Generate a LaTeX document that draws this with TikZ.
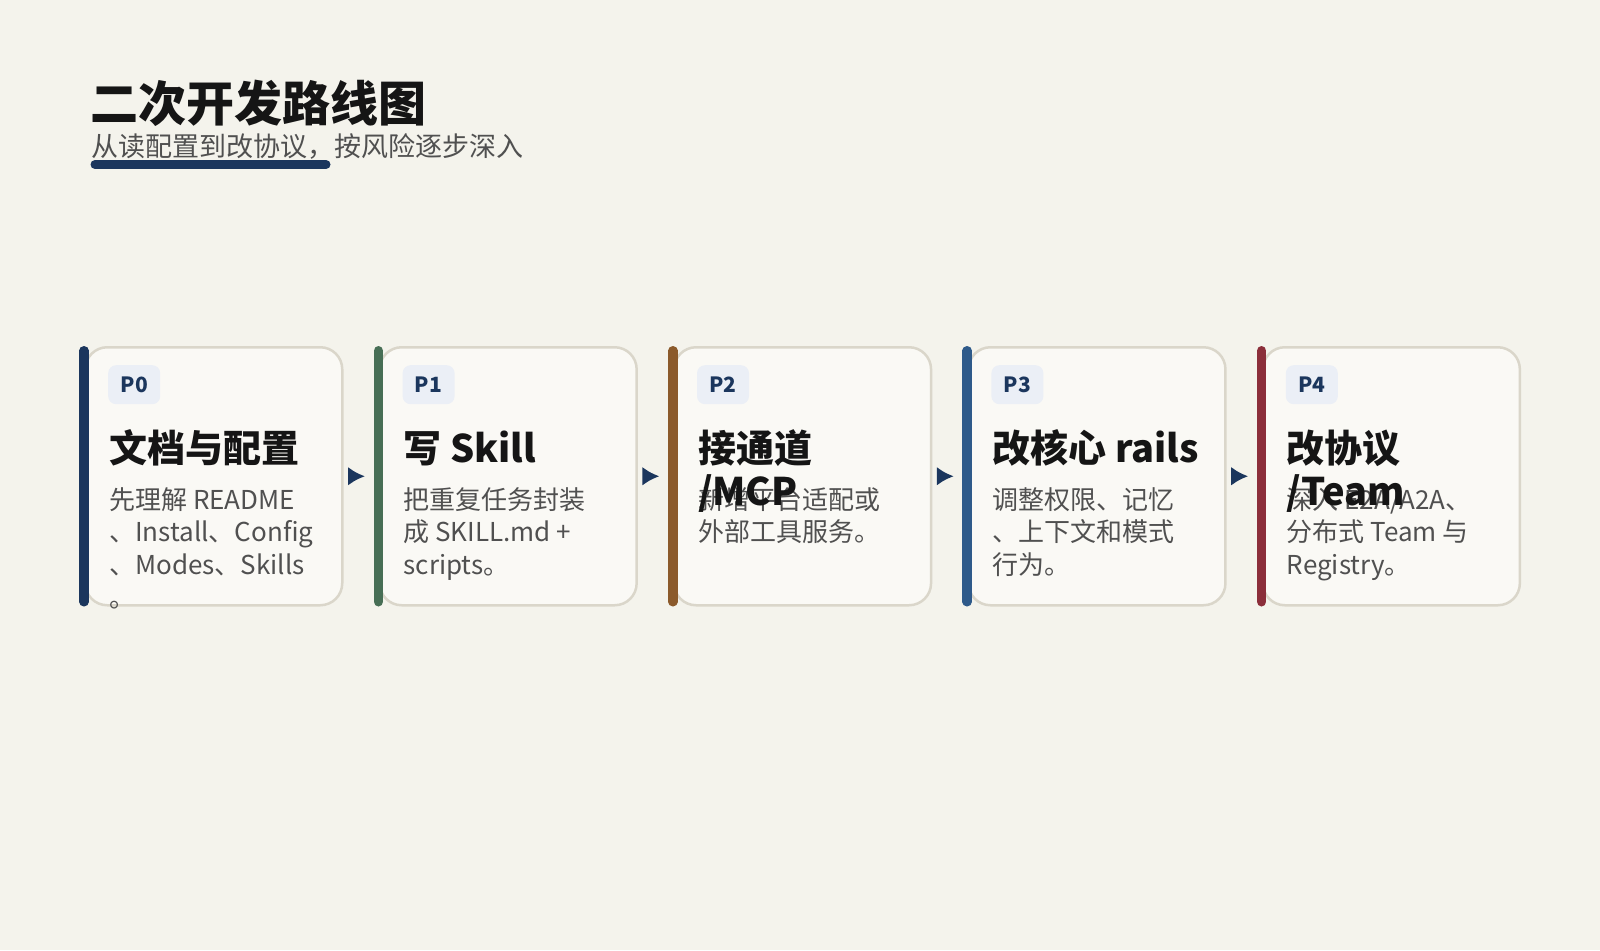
\documentclass[tikz,border=0pt]{standalone}
\usepackage{fontspec}
\setmainfont{Noto Sans CJK SC}
\usetikzlibrary{arrows.meta}
\definecolor{paper}{HTML}{F4F3EC}
\definecolor{cardfill}{HTML}{FAF9F5}
\definecolor{cardline}{HTML}{DAD6CA}
\definecolor{ink}{HTML}{151515}
\definecolor{muted}{HTML}{505050}
\definecolor{navy}{HTML}{1B365D}
\definecolor{pine}{HTML}{476E55}
\definecolor{rust}{HTML}{8B5A2B}
\definecolor{steel}{HTML}{2E5A8A}
\definecolor{wine}{HTML}{8B2E3A}
\definecolor{badgefill}{HTML}{EBEFF6}
\tikzset{
  card/.style={draw=cardline,line width=2.5pt,fill=cardfill,rounded corners=22pt,minimum width=257pt,minimum height=258pt,anchor=north west,inner sep=0pt},
  bar/.style={draw=#1,line width=9.5pt,line cap=round},
  badge/.style={fill=badgefill,rounded corners=8pt,minimum width=52pt,minimum height=39pt,inner sep=0pt,anchor=north west,text=navy,font=\fontsize{21}{21}\selectfont\bfseries},
  heading/.style={anchor=base west,inner sep=0pt,align=left,text=ink,font=\fontsize{38}{43}\selectfont\bfseries},
  blurb/.style={anchor=base west,inner sep=0pt,align=left,text=muted,font=\fontsize{26}{32.7}\selectfont},
  flow/.style={draw=navy,line width=4pt,-{Latex[length=17pt,width=19pt]}},
}
\begin{document}
\begin{tikzpicture}[x=1pt,y=-1pt]
  \fill[paper] (0,0) rectangle (1600,950);
  \useasboundingbox (0,0) rectangle (1600,950);
  \node[anchor=base west,inner sep=0pt,text=ink,font=\fontsize{48}{48}\selectfont\bfseries] (title) at (90,121) {二次开发路线图};
  \node[anchor=base west,inner sep=0pt,text=muted,font=\fontsize{27}{27}\selectfont] (subtitle) at (91,156) {从读配置到改协议，按风险逐步深入};
  \draw[navy,line width=9pt,line cap=round] (95,164.5) -- (326,164.5);
  % cards
  \node[card] (c0) at (84,346) {};
  \node[card] (c1) at (378.4,346) {};
  \node[card] (c2) at (672.8,346) {};
  \node[card] (c3) at (967.2,346) {};
  \node[card] (c4) at (1261.6,346) {};
  \draw[bar=navy] ([yshift=-4.75pt]c0.north west) -- ([yshift=4.75pt]c0.south west);
  \draw[bar=pine] ([yshift=-4.75pt]c1.north west) -- ([yshift=4.75pt]c1.south west);
  \draw[bar=rust] ([yshift=-4.75pt]c2.north west) -- ([yshift=4.75pt]c2.south west);
  \draw[bar=steel] ([yshift=-4.75pt]c3.north west) -- ([yshift=4.75pt]c3.south west);
  \draw[bar=wine] ([yshift=-4.75pt]c4.north west) -- ([yshift=4.75pt]c4.south west);
  \node[badge] (b0) at ([xshift=24pt,yshift=-19pt]c0.north west) {P0};
  \node[badge] (b1) at ([xshift=24pt,yshift=-19pt]c1.north west) {P1};
  \node[badge] (b2) at ([xshift=24pt,yshift=-19pt]c2.north west) {P2};
  \node[badge] (b3) at ([xshift=24pt,yshift=-19pt]c3.north west) {P3};
  \node[badge] (b4) at ([xshift=24pt,yshift=-19pt]c4.north west) {P4};
  % base of a wrapped node is its last line
  \node[blurb] (d0) at ([xshift=25pt,yshift=-261.1pt]c0.north west) {先理解 README\\、Install、Config\\、Modes、Skills\\。};
  \node[blurb] (d1) at ([xshift=25pt,yshift=-228.4pt]c1.north west) {把重复任务封装\\成 SKILL.md +\\scripts。};
  \node[blurb] (d2) at ([xshift=25pt,yshift=-195.7pt]c2.north west) {新增平台适配或\\外部工具服务。};
  \node[blurb] (d3) at ([xshift=25pt,yshift=-228.4pt]c3.north west) {调整权限、记忆\\、上下文和模式\\行为。};
  \node[blurb] (d4) at ([xshift=25pt,yshift=-228.4pt]c4.north west) {深入 E2A/A2A、\\分布式 Team 与\\Registry。};
  \node[heading] (t0) at ([xshift=25pt,yshift=-116.5pt]c0.north west) {文档与配置};
  \node[heading] (t1) at ([xshift=25pt,yshift=-116.5pt]c1.north west) {写 Skill};
  \node[heading] (t2) at ([xshift=25pt,yshift=-159.5pt]c2.north west) {接通道\\/MCP};
  \node[heading] (t3) at ([xshift=25pt,yshift=-116.5pt]c3.north west) {改核心 rails};
  \node[heading] (t4) at ([xshift=25pt,yshift=-159.5pt]c4.north west) {改协议\\/Team};
  % arrows between steps
  \draw[flow] ([xshift=5pt]c0.east) -- ([xshift=-13.4pt]c1.west);
  \draw[flow] ([xshift=5pt]c1.east) -- ([xshift=-13.4pt]c2.west);
  \draw[flow] ([xshift=5pt]c2.east) -- ([xshift=-13.4pt]c3.west);
  \draw[flow] ([xshift=5pt]c3.east) -- ([xshift=-13.4pt]c4.west);
\end{tikzpicture}
\end{document}
